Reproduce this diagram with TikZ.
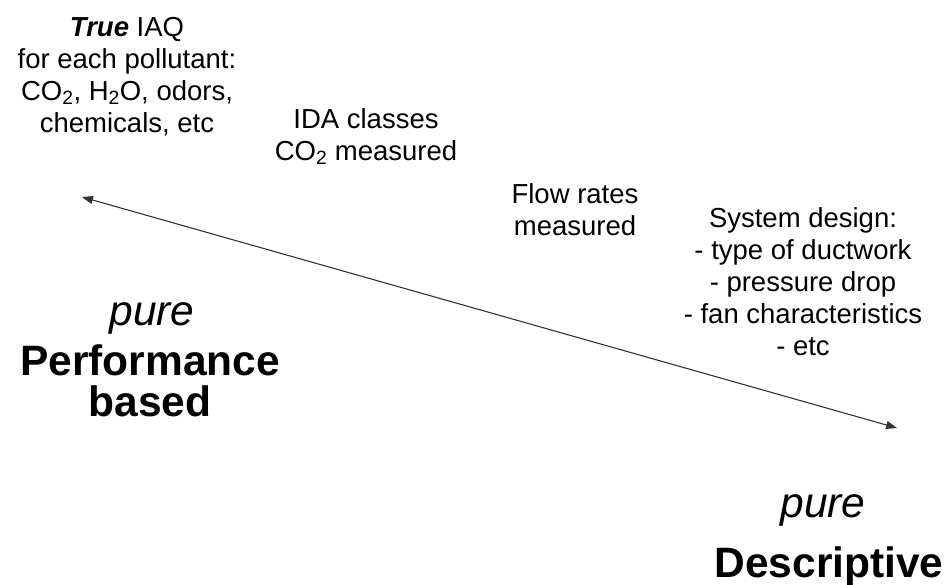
\documentclass[tikz,border=0pt]{standalone}
\usepackage{fontspec}
\setmainfont{Liberation Sans}
\usetikzlibrary{arrows.meta}

% multi-line nodes: the base anchor sits on the last line's baseline
\tikzset{
  smalltext/.style={font=\fontsize{27.5}{32}\selectfont, align=center, inner sep=0pt, anchor=base},
  bigtext/.style={font=\fontsize{42.5}{41.5}\selectfont, align=center, inner sep=0pt, anchor=base},
  scale line/.style={draw=black!80, line width=1.1pt, {Triangle[length=11pt,width=8pt]}-{Triangle[length=11pt,width=8pt]}}
}

\begin{document}
\begin{tikzpicture}[x=1pt,y=-1pt]
  \useasboundingbox (0,0) rectangle (949,584);

  % labels along the scale, top-left to bottom-right
  \node[smalltext] (iaq) at (127,132)
    {\textbf{\textit{True}} IAQ\\for each pollutant:\\CO\textsubscript{2}, H\textsubscript{2}O, odors,\\chemicals, etc};
  \node[smalltext] (ida) at (366,160)
    {IDA classes\\CO\textsubscript{2} measured};
  \node[smalltext] (flow) at (575,235)
    {Flow rates\\measured};
  \node[smalltext] (sys) at (803,355)
    {System design:\\- type of ductwork\\- pressure drop\\- fan characteristics\\- etc};

  % the two ends of the scale
  \node[bigtext] (pureL) at (152,325) {\textit{pure}};
  \node[bigtext] (perf) at (150,416.5) {\textbf{Performance}\\\textbf{based}};
  \node[bigtext] (pureR) at (823,517) {\textit{pure}};
  \node[bigtext] (desc) at (829,577) {\textbf{Descriptive}};

  % the double-headed scale arrow
  \coordinate (lft) at (82,197);
  \coordinate (rgt) at (897,428);
  \draw[scale line] (lft) -- (rgt);
\end{tikzpicture}
\end{document}
